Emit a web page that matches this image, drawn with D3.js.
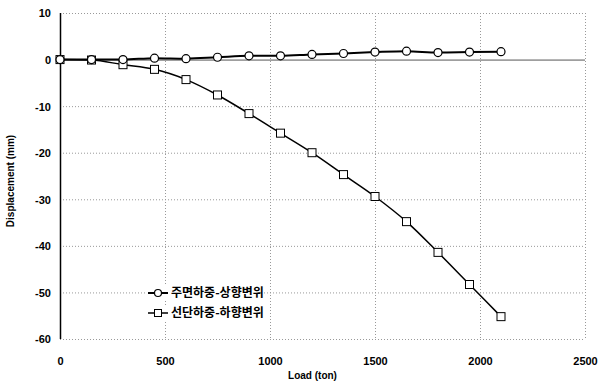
<!DOCTYPE html>
<html>
<head>
<meta charset="utf-8">
<script src="https://cdn.jsdelivr.net/npm/d3@7"></script>
<style>
  body { margin: 0; background: #fff; }
  svg { display: block; }
  .tick text { font-family: "Liberation Sans", Arial, sans-serif; font-weight: bold; font-size: 11px; }
  .lbl { font-family: "Liberation Sans", Arial, sans-serif; font-weight: bold; font-size: 10px; }
  .leg { font-family: "Noto Sans CJK KR", sans-serif; font-weight: bold; font-size: 12px; }
</style>
</head>
<body>
<div id="chart"></div>
<script>
// load steps (ton)
const loads = [0, 150, 300, 450, 600, 750, 900, 1050, 1200, 1350, 1500, 1650, 1800, 1950, 2100];
// 주면하중-상향변위 (upward, mm)
const upward = [0, 0, 0, 0.3, 0.2, 0.5, 0.8, 0.8, 1.1, 1.3, 1.6, 1.8, 1.5, 1.6, 1.7];
// 선단하중-하향변위 (downward, mm)
const downward = [0, -0.1, -1.1, -2.1, -4.3, -7.6, -11.6, -15.8, -20, -24.7, -29.4, -34.8, -41.4, -48.3, -55.2];
const seriesNames = ['주면하중-상향변위', '선단하중-하향변위'];
const xTicks = [0, 500, 1000, 1500, 2000, 2500];
const yTicks = [10, 0, -10, -20, -30, -40, -50, -60];

const W = 598, H = 385;
const margin = {left: 60, right: 13, top: 13, bottom: 46};

const svg = d3.select('#chart').append('svg')
    .attr('width', W)
    .attr('height', H);

const x = d3.scaleLinear().domain([0, 2500]).range([margin.left, W - margin.right]);
const y = d3.scaleLinear().domain([-60, 10]).range([H - margin.bottom, margin.top]);

// grid lines (dotted)
const grid = svg.append('g').attr('stroke', '#999').attr('stroke-dasharray', '1,2').attr('stroke-width', 1);
grid.selectAll('line.h')
    .data(yTicks.filter(d => d !== 0))
    .join('line')
    .attr('x1', x(0)).attr('x2', x(2500))
    .attr('y1', d => y(d) + 0.5).attr('y2', d => y(d) + 0.5);
grid.selectAll('line.v')
    .data(xTicks.slice(1))
    .join('line')
    .attr('y1', y(10)).attr('y2', y(-60))
    .attr('x1', d => x(d) + 0.5).attr('x2', d => x(d) + 0.5);

// zero line
svg.append('line')
    .attr('x1', x(0)).attr('x2', x(2500))
    .attr('y1', y(0) + 0.5).attr('y2', y(0) + 0.5)
    .attr('stroke', '#555').attr('stroke-width', 1);

// axes
const xAxis = svg.append('g')
    .attr('transform', `translate(0,${y(-60) + 18})`)
    .call(d3.axisBottom(x).tickValues(xTicks).tickSize(0).tickPadding(0).tickFormat(d3.format('d')));
xAxis.select('.domain').remove();

const yAxis = svg.append('g')
    .attr('transform', `translate(${x(0) - 9},0)`)
    .call(d3.axisLeft(y).tickValues(yTicks).tickSize(0).tickPadding(0)
      .tickFormat(d => d < 0 ? '-' + Math.abs(d) : d));
yAxis.select('.domain').remove();
yAxis.selectAll('text').attr('dy', '0.35em');

// left axis line
svg.append('line')
    .attr('x1', x(0) + 0.5).attr('x2', x(0) + 0.5)
    .attr('y1', y(10)).attr('y2', y(-60))
    .attr('stroke', '#000').attr('stroke-width', 1.5);

// axis titles
svg.append('text').attr('class', 'lbl')
    .attr('x', (x(0) + x(2500)) / 2 - 10).attr('y', H - 6)
    .attr('text-anchor', 'middle')
    .text('Load (ton)');
svg.append('text').attr('class', 'lbl')
    .attr('transform', `translate(14,${(y(10) + y(-60)) / 2 + 5}) rotate(-90)`)
    .attr('text-anchor', 'middle')
    .text('Displacement (mm)');

const line = d3.line()
    .x(d => x(d[0]))
    .y(d => y(d[1]))
    .curve(d3.curveMonotoneX);

const upData = loads.map((l, i) => [l, upward[i]]);
const downData = loads.map((l, i) => [l, downward[i]]);

svg.append('path').datum(downData)
    .attr('fill', 'none').attr('stroke', '#000').attr('stroke-width', 1.5)
    .attr('d', line);
svg.append('path').datum(upData)
    .attr('fill', 'none').attr('stroke', '#000').attr('stroke-width', 2)
    .attr('d', line);

svg.append('g').selectAll('rect')
    .data(downData)
    .join('rect')
    .attr('x', d => x(d[0]) - 4).attr('y', d => y(d[1]) - 4)
    .attr('width', 8).attr('height', 8)
    .attr('fill', '#fff').attr('stroke', '#000').attr('stroke-width', 1);

svg.append('g').selectAll('circle')
    .data(upData)
    .join('circle')
    .attr('cx', d => x(d[0])).attr('cy', d => y(d[1]))
    .attr('r', 4)
    .attr('fill', '#fff').attr('stroke', '#000').attr('stroke-width', 1.2);

// legend
const legX = 148, legY = [293, 313];
const leg = svg.append('g');
seriesNames.forEach((name, i) => {
  const g = leg.append('g').attr('transform', `translate(${legX},${legY[i]})`);
  g.append('rect').attr('x', -1).attr('y', -8).attr('width', 110).attr('height', 16).attr('fill', '#fff');
  g.append('line').attr('x1', 0).attr('x2', 20).attr('y1', 0).attr('y2', 0)
      .attr('stroke', '#000').attr('stroke-width', i === 0 ? 2 : 1.5);
  if (i === 0) {
    g.append('circle').attr('cx', 10).attr('cy', 0).attr('r', 3.5)
        .attr('fill', '#fff').attr('stroke', '#000').attr('stroke-width', 1.2);
  } else {
    g.append('rect').attr('x', 6.5).attr('y', -3.5).attr('width', 7).attr('height', 7)
        .attr('fill', '#fff').attr('stroke', '#000');
  }
  g.append('text').attr('class', 'leg')
      .attr('x', 23).attr('y', 0).attr('dy', '0.35em')
      .text(name);
});
</script>
</body>
</html>
